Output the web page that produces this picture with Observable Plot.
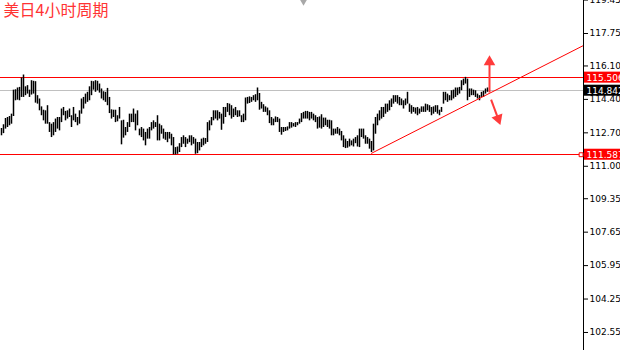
<!DOCTYPE html>
<html><head><meta charset="utf-8">
<script src="https://cdn.jsdelivr.net/npm/d3@7"></script>
<script src="https://cdn.jsdelivr.net/npm/@observablehq/plot@0.6"></script>
<style>html,body{margin:0;padding:0;background:#fff;} svg{display:block}</style>
</head><body><div id="chart"></div>
<script>
const title = "美日4小时周期";

const highs = [
112.92,113.11,113.43,113.48,113.53,113.65,114.87,114.89,114.98,115.01,
115.49,115.64,115.04,115.10,114.87,115.35,115.32,115.30,114.59,114.42,
114.02,113.85,113.82,114.08,113.22,113.14,113.22,113.40,113.48,113.48,
113.91,113.99,113.79,113.82,113.91,113.57,113.99,113.65,113.48,113.82,
114.42,114.50,114.67,114.76,115.04,115.32,115.30,115.35,115.32,115.18,
114.93,114.79,114.76,114.96,114.50,113.87,113.85,113.85,113.57,113.99,
113.31,113.34,
112.97,113.22,113.65,113.65,113.91,113.65,113.82,112.89,112.97,112.89,
112.72,112.89,112.97,113.22,113.31,113.22,113.57,113.14,113.06,112.89,
112.72,112.72,112.72,112.63,112.46,111.95,111.98,112.15,112.46,112.55,
112.46,112.38,112.55,112.55,112.46,112.38,112.21,112.21,112.38,112.43,
112.41,113.22,113.31,113.48,113.82,113.82,113.82,113.74,113.65,113.99,
113.99,114.19,114.16,114.08,113.91,113.99,113.82,113.82,113.57,113.65,
114.47,
114.50,114.53,114.50,114.59,114.64,114.98,114.70,114.25,114.13,114.02,
113.96,113.82,113.48,113.40,113.51,113.48,113.40,112.97,112.97,112.97,
113.00,113.22,113.22,113.17,113.22,113.22,113.40,113.68,113.74,113.79,
113.79,113.74,113.74,113.65,113.57,113.48,113.51,113.62,113.45,113.45,
113.34,113.34,113.31,112.89,112.89,112.97,112.89,112.77,112.55,112.38,
112.26,112.38,112.29,112.38,112.46,112.55,112.89,112.89,112.89,112.55,
112.46,112.38,112.26,113.14,113.48,113.65,113.82,113.99,113.99,114.16,
114.16,114.33,114.42,114.59,114.59,114.59,114.50,114.42,114.33,114.42,
114.76,114.16,114.08,113.99,113.96,113.99,113.91,114.02,114.02,114.16,
114.13,114.08,113.99,114.02,114.08,114.08,113.85,113.99,114.76,114.76,
114.67,114.59,114.84,114.87,114.98,114.98,115.01,115.35,115.43,115.52,
115.43,114.93,114.93,114.87,114.84,114.67,114.59,114.76,114.81,114.93,
114.98
];
const lows = [
112.55,112.66,112.89,112.97,113.06,113.14,113.53,114.33,114.36,114.33,
114.50,114.50,114.59,114.67,114.50,114.62,114.67,114.21,114.16,113.82,
113.57,113.31,113.14,113.14,112.72,112.46,112.55,112.72,112.89,112.80,
113.22,113.57,113.31,113.40,113.48,112.97,113.31,113.22,113.06,113.14,
113.65,113.91,114.16,114.25,114.33,114.59,114.87,114.76,114.84,114.72,
114.42,114.33,114.25,114.08,113.68,113.40,113.48,113.22,113.26,113.40,
112.09,112.43,
112.55,112.72,112.97,113.22,113.22,112.80,113.06,112.55,112.46,112.29,
112.04,112.38,112.38,112.80,112.89,112.97,112.29,112.29,112.63,112.38,
112.32,112.20,112.38,112.04,111.58,111.58,111.61,111.70,111.95,112.12,
111.95,112.12,112.20,112.04,112.12,111.61,111.64,111.78,111.95,112.04,
112.12,112.21,112.80,113.06,113.31,113.40,113.31,113.40,112.83,113.14,
113.48,113.74,113.57,113.40,113.48,113.57,113.48,113.51,113.22,113.22,
113.31,
114.16,114.19,114.25,114.33,114.25,114.33,113.85,113.91,113.74,113.74,
113.57,113.17,113.06,113.06,113.22,113.22,112.72,112.58,112.72,112.77,
112.80,112.89,112.94,113.00,112.97,113.06,113.14,113.22,113.40,113.40,
113.40,113.31,113.40,113.31,113.22,112.89,112.94,112.89,112.97,113.06,
112.97,112.89,112.55,112.55,112.63,112.63,112.55,112.29,111.95,111.90,
111.92,111.98,112.04,111.98,112.15,111.98,111.95,112.46,112.38,112.12,
112.12,111.87,111.70,111.78,112.63,113.06,113.31,113.40,113.48,113.65,
113.74,113.82,113.99,114.16,114.25,114.16,114.08,114.08,113.91,114.08,
114.16,113.74,113.65,113.74,113.65,113.57,113.65,113.74,113.74,113.74,
113.82,113.74,113.57,113.65,113.74,113.65,113.57,113.74,114.16,114.33,
114.25,114.33,114.33,114.42,114.50,114.59,114.67,114.84,115.10,115.18,
114.33,114.50,114.59,114.59,114.50,114.42,114.33,114.50,114.50,114.67,
114.76
];

const yTicks = [119.45, 117.75, 116.10, 114.40, 112.70, 111.00, 109.35, 107.65, 105.95, 104.25, 102.55];

const levelPrices = [115.506, 114.842, 111.587];
const levelLineColors = ["#ff0000", "#c0c0c0", "#ff0000"];
const levelBoxColors = ["#ff0000", "#000000", "#ff0000"];

const trendBars = [185, 291];
const trendPrices = [111.66, 117.14];

// annotation arrows: [bar index, price] start -> end
const arrowStartBars = [244, 244.8];
const arrowStartPrices = [114.75, 114.39];
const arrowEndBars = [244, 248.3];
const arrowEndPrices = [116.30, 113.42];
const arrowAngles = [0, 160];

const bars = highs.map((h, i) => ({i, high: h, low: lows[i]}));
const levels = levelPrices.map((p, k) => ({price: p, line: levelLineColors[k], box: levelBoxColors[k]}));
const trend = trendBars.map((b, k) => ({x: trendBars[k], y: trendPrices[k]}));
const arrows = arrowStartBars.map((b, k) => ({x1: b, y1: arrowStartPrices[k], x2: arrowEndBars[k], y2: arrowEndPrices[k], a: arrowAngles[k]}));

const xMax = 291;
const yTop = 119.428, yBottom = 101.634;
const boxHalf = 0.28;

const chart = Plot.plot({
  width: 620, height: 350,
  marginLeft: 0, marginRight: 37, marginTop: 0, marginBottom: 0,
  style: {fontFamily: "DejaVu Sans", background: "#fff"},
  x: {domain: [-0.5, xMax], axis: null},
  y: {domain: [yBottom, yTop], axis: null},
  marks: [
    ...levels.map(l => Plot.ruleY([l.price], {stroke: l.line, strokeWidth: 1, shapeRendering: "crispEdges"})),
    Plot.ruleX(bars, {x: "i", y1: "low", y2: "high", stroke: "#000", strokeWidth: 1.5}),
    Plot.line(trend, {x: "x", y: "y", stroke: "#ff0000", strokeWidth: 1}),
    Plot.link(arrows, {x1: "x1", y1: "y1", x2: "x2", y2: "y2", stroke: "#ff3b3b", strokeWidth: 2}),
    Plot.dot(arrows, {x: "x2", y: "y2", symbol: "triangle", r: 4.3, fill: "#ff3b3b", rotate: "a"}),
    Plot.ruleX([xMax], {stroke: "#000", strokeWidth: 1, shapeRendering: "crispEdges"}),
    Plot.axisY(yTicks, {anchor: "right", tickSize: 4, tickPadding: 2, tickFormat: d => d.toFixed(3), fontSize: 9, fill: "#000", stroke: "#000"}),
    Plot.rect(levels, {x1: () => xMax + 0.5, x2: () => xMax + 20, y1: d => d.price - boxHalf, y2: d => d.price + boxHalf, fill: "box"}),
    Plot.text(levels, {x: () => xMax + 0.5, y: "price", dx: 2, text: d => d.price.toFixed(3), fill: "#fff", textAnchor: "start", fontSize: 9}),
    Plot.dot([levelPrices[2]], {x: () => xMax - 1.2, y: d => d, symbol: "square", r: 2.2, stroke: "#ff0000", fill: "#fff", strokeWidth: 1}),
    Plot.dot([151], {x: d => d, y: () => yTop - 0.06, symbol: "triangle", rotate: 180, r: 2.6, fill: "#a8a8a8"}),
    Plot.text([title], {frameAnchor: "top-left", dx: 3, dy: 4, lineAnchor: "top", textAnchor: "start", fill: "#f33", fontSize: 16, fontFamily: "Noto Sans CJK SC"})
  ]
});
document.getElementById("chart").appendChild(chart);
</script>
</body></html>
